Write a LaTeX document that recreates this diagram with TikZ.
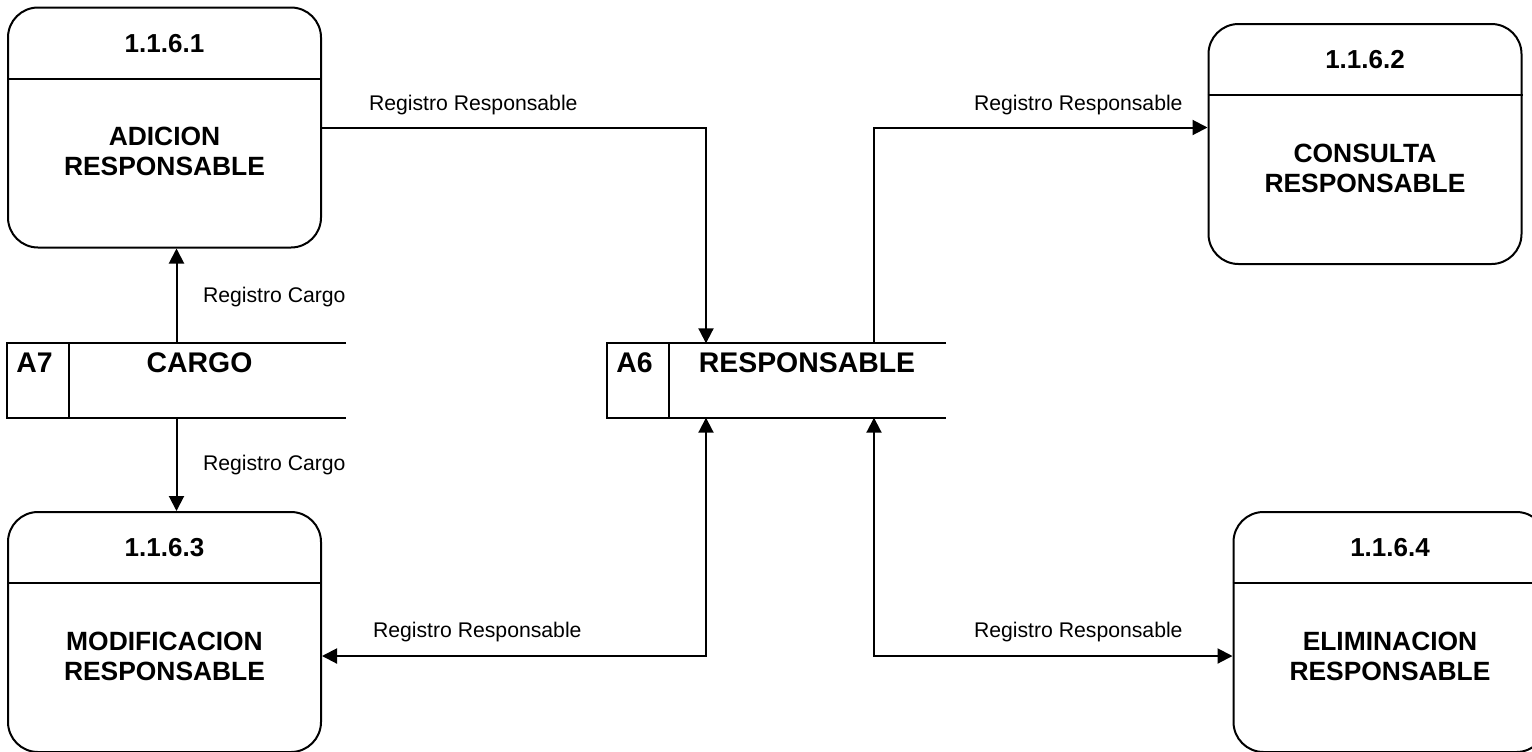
\documentclass[tikz,border=0pt]{standalone}
\usepackage{fontspec}
\setmainfont{Liberation Sans}
\usetikzlibrary{arrows.meta,positioning}

\tikzset{
	proceso/.style={draw,rounded corners=15pt,minimum width=156.5pt,minimum height=120pt,inner sep=0pt},
	titulo/.style={font=\fontsize{13}{15}\selectfont\bfseries,inner sep=0pt},
	cuerpo/.style={font=\fontsize{13.2}{15}\selectfont\bfseries,align=center,inner sep=0pt},
	almacen/.style={minimum width=168.5pt,minimum height=36.2pt,inner sep=0pt},
	nomalm/.style={font=\fontsize{14.2}{16}\selectfont\bfseries,inner sep=0pt},
	etiqueta/.style={font=\fontsize{10.6}{12}\selectfont,inner sep=0pt,anchor=base west},
	flujo/.style={-{Triangle[length=7.5pt,width=7.5pt]}},
	flujodoble/.style={{Triangle[length=7.5pt,width=7.5pt]}-{Triangle[length=7.5pt,width=7.5pt]}},
}

\begin{document}
\begin{tikzpicture}[x=0.5pt,y=-0.5pt,line width=1pt]
	\useasboundingbox (0,0) rectangle (1532,751);
	\clip (0,0) rectangle (1532,751);
	% procesos
	\foreach \n/\x/\y/\num/\txt in {p1/164.5/127.5/1.1.6.1/{ADICION\\RESPONSABLE},
		p2/1365/144/1.1.6.2/{CONSULTA\\RESPONSABLE},
		p3/164.5/632/1.1.6.3/{MODIFICACION\\RESPONSABLE},
		p4/1390/632/1.1.6.4/{ELIMINACION\\RESPONSABLE}}{
		\node[proceso] (\n) at (\x,\y) {};
		\draw ([yshift=-36pt]\n.north west)--([yshift=-36pt]\n.north east);
		\node[titulo] (\n-num) at ([yshift=-18.5pt]\n.north) {\num};
		\node[cuerpo] (\n-txt) at ([yshift=-12pt]\n.center) {\txt};
	}
	% almacenes
	\foreach \n/\x/\cod/\nom/\dx in {a7/176.5/A7/CARGO/11.5, a6/776.5/A6/RESPONSABLE/15.25}{
		\node[almacen] (\n) at (\x,380.5) {};
		\draw (\n.north east)--(\n.north west)--(\n.south west)--(\n.south east);
		\draw ([xshift=30.75pt]\n.north west)--([xshift=30.75pt]\n.south west);
		\node[nomalm] (\n-cod) at ([xshift=13.75pt,yshift=-9.5pt]\n.north west) {\cod};
		\node[nomalm] (\n-nom) at ([xshift=\dx pt,yshift=-9.5pt]\n.north) {\nom};
	}
	\coordinate (a6ni) at ([xshift=-35.25pt]a6.north);
	\coordinate (a6nd) at ([xshift=48.75pt]a6.north);
	\coordinate (a6si) at ([xshift=-35.25pt]a6.south);
	\coordinate (a6sd) at ([xshift=48.75pt]a6.south);
	\coordinate (p3e) at ([yshift=-12pt]p3.east);
	\coordinate (p4w) at ([yshift=-12pt]p4.west);
	% flujos
	\draw[flujo] (p1.east)-|(a6ni);
	\draw[flujo] (a6nd)|-(p2.west |- p1.east);
	\draw[flujo] (a7.north)--(a7.north |- p1.south);
	\draw[flujo] (a7.south)--(a7.south |- p3.north);
	\draw[flujodoble] (a6si)|-(p3e);
	\draw[flujodoble] (a6sd)|-(p4w);
	% etiquetas
	\node[etiqueta] (e1) at (368,110) {Registro Responsable};
	\node[etiqueta] (e2) at (973,110) {Registro Responsable};
	\node[etiqueta] (e3) at (372,637) {Registro Responsable};
	\node[etiqueta] (e4) at (973,637) {Registro Responsable};
	\node[etiqueta] (e5) at (202,302) {Registro Cargo};
	\node[etiqueta] (e6) at (202,470) {Registro Cargo};
\end{tikzpicture}
\end{document}
